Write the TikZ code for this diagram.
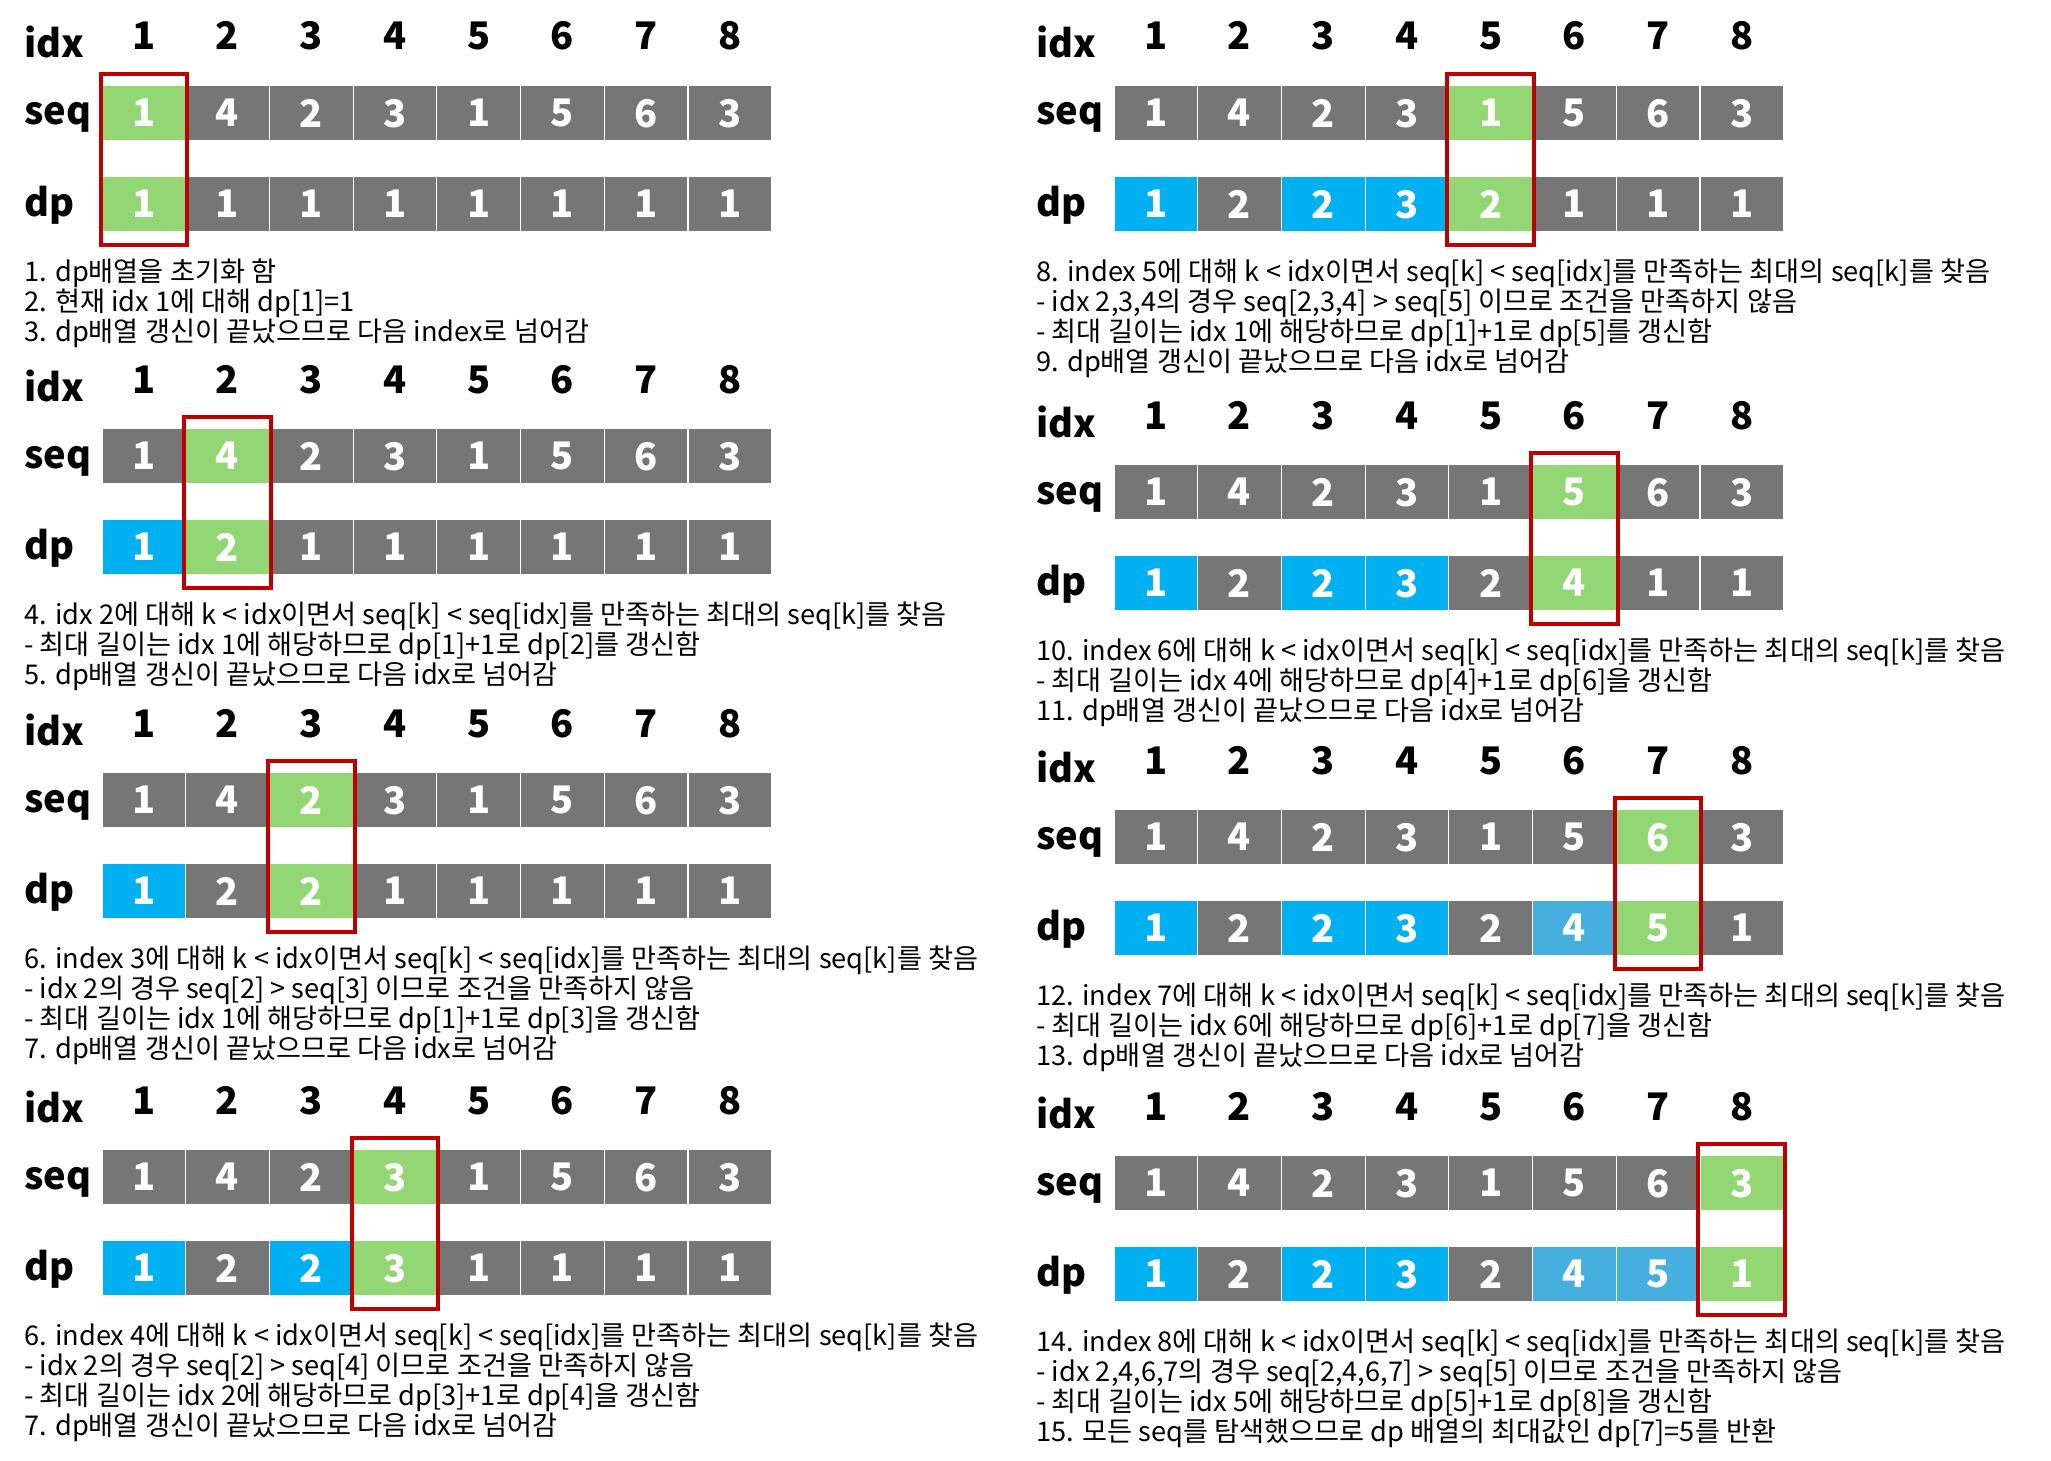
\documentclass[tikz,border=0pt]{standalone}
\usepackage{fontspec}
\setmainfont{Noto Sans CJK KR}
\definecolor{cellgray}{HTML}{767676}
\definecolor{curgreen}{HTML}{92D774}
\definecolor{lisblue}{HTML}{00B0F0}
\definecolor{lisltblue}{HTML}{46AFE0}
\definecolor{boxred}{HTML}{C00000}

% #1 name, #2 label x, #3 first cell x, #4 seq top, #5 current idx, #6 dp value/colour, #7 notes
\newcommand{\lispanel}[7]{%
  \node[lbl] (#1-idx) at (#2,#4-27) {idx};
  \node[lbl] (#1-seq) at (#2,#4+40) {seq};
  \node[lbl] (#1-dp) at (#2,#4+131) {dp};
  \foreach \v [count=\i] in {1,4,2,3,1,5,6,3}{
    \ifnum\i=#5\relax\def\fc{curgreen}\else\def\fc{cellgray}\fi
    \node[colnum] (#1-n\i) at (#3+\i*83.7-41.85,#4-35) {\i};
    \node[cell,fill=\fc] (#1-s\i) at (#3+\i*83.7-41.85,#4+28) {\v};
  }
  \foreach \v/\c [count=\i] in {#6}
    \node[cell,fill=\c] (#1-d\i) at (#3+\i*83.7-41.85,#4+119) {\v};
  \draw[redbox] ([xshift=-0.75pt,yshift=5.5pt]#1-s#5.north west) rectangle ([xshift=0.75pt,yshift=-6.5pt]#1-d#5.south east);
  \node[note] (#1-note) at (#2,#4+173) {#7};
}

\begin{document}
\begin{tikzpicture}[x=0.5pt,y=-0.5pt,
  cell/.style={draw=white,line width=0.6pt,minimum width=41.85pt,minimum height=28pt,
    inner sep=0pt,outer sep=0pt,text=white,text depth=-1pt,font=\fontsize{19}{19}\selectfont\bfseries},
  colnum/.style={anchor=base,inner sep=0pt,font=\fontsize{19}{19}\selectfont\bfseries},
  lbl/.style={anchor=base west,inner sep=0pt,font=\fontsize{19}{19}\selectfont\bfseries},
  note/.style={anchor=north west,inner sep=0pt,align=left,font=\fontsize{13.6}{15}\selectfont},
  redbox/.style={draw=boxred,line width=2pt}]
\useasboundingbox (0,0) rectangle (2051,1461);

% left column
\lispanel{a}{24}{102}{85}{1}
  {1/curgreen,1/cellgray,1/cellgray,1/cellgray,1/cellgray,1/cellgray,1/cellgray,1/cellgray}
  {1. dp배열을 초기화 함\\2. 현재 idx 1에 대해 dp[1]=1\\3. dp배열 갱신이 끝났으므로 다음 index로 넘어감}
\lispanel{b}{24}{102}{428}{2}
  {1/lisblue,2/curgreen,1/cellgray,1/cellgray,1/cellgray,1/cellgray,1/cellgray,1/cellgray}
  {4. idx 2에 대해 k < idx이면서 seq[k] < seq[idx]를 만족하는 최대의 seq[k]를 찾음\\- 최대 길이는 idx 1에 해당하므로 dp[1]+1로 dp[2]를 갱신함\\5. dp배열 갱신이 끝났으므로 다음 idx로 넘어감}
\lispanel{c}{24}{102}{772}{3}
  {1/lisblue,2/cellgray,2/curgreen,1/cellgray,1/cellgray,1/cellgray,1/cellgray,1/cellgray}
  {6. index 3에 대해 k < idx이면서 seq[k] < seq[idx]를 만족하는 최대의 seq[k]를 찾음\\- idx 2의 경우 seq[2] > seq[3] 이므로 조건을 만족하지 않음\\- 최대 길이는 idx 1에 해당하므로 dp[1]+1로 dp[3]을 갱신함\\7. dp배열 갱신이 끝났으므로 다음 idx로 넘어감}
\lispanel{d}{24}{102}{1149}{4}
  {1/lisblue,2/cellgray,2/lisblue,3/curgreen,1/cellgray,1/cellgray,1/cellgray,1/cellgray}
  {6. index 4에 대해 k < idx이면서 seq[k] < seq[idx]를 만족하는 최대의 seq[k]를 찾음\\- idx 2의 경우 seq[2] > seq[4] 이므로 조건을 만족하지 않음\\- 최대 길이는 idx 2에 해당하므로 dp[3]+1로 dp[4]을 갱신함\\7. dp배열 갱신이 끝났으므로 다음 idx로 넘어감}

% right column
\lispanel{e}{1036}{1114}{85}{5}
  {1/lisblue,2/cellgray,2/lisblue,3/lisblue,2/curgreen,1/cellgray,1/cellgray,1/cellgray}
  {8. index 5에 대해 k < idx이면서 seq[k] < seq[idx]를 만족하는 최대의 seq[k]를 찾음\\- idx 2,3,4의 경우 seq[2,3,4] > seq[5] 이므로 조건을 만족하지 않음\\- 최대 길이는 idx 1에 해당하므로 dp[1]+1로 dp[5]를 갱신함\\9. dp배열 갱신이 끝났으므로 다음 idx로 넘어감}
\lispanel{f}{1036}{1114}{464}{6}
  {1/lisblue,2/cellgray,2/lisblue,3/lisblue,2/cellgray,4/curgreen,1/cellgray,1/cellgray}
  {10. index 6에 대해 k < idx이면서 seq[k] < seq[idx]를 만족하는 최대의 seq[k]를 찾음\\- 최대 길이는 idx 4에 해당하므로 dp[4]+1로 dp[6]을 갱신함\\11. dp배열 갱신이 끝났으므로 다음 idx로 넘어감}
\lispanel{g}{1036}{1114}{809}{7}
  {1/lisblue,2/cellgray,2/lisblue,3/lisblue,2/cellgray,4/lisltblue,5/curgreen,1/cellgray}
  {12. index 7에 대해 k < idx이면서 seq[k] < seq[idx]를 만족하는 최대의 seq[k]를 찾음\\- 최대 길이는 idx 6에 해당하므로 dp[6]+1로 dp[7]을 갱신함\\13. dp배열 갱신이 끝났으므로 다음 idx로 넘어감}
\lispanel{h}{1036}{1114}{1155}{8}
  {1/lisblue,2/cellgray,2/lisblue,3/lisblue,2/cellgray,4/lisltblue,5/lisltblue,1/curgreen}
  {14. index 8에 대해 k < idx이면서 seq[k] < seq[idx]를 만족하는 최대의 seq[k]를 찾음\\- idx 2,4,6,7의 경우 seq[2,4,6,7] > seq[5] 이므로 조건을 만족하지 않음\\- 최대 길이는 idx 5에 해당하므로 dp[5]+1로 dp[8]을 갱신함\\15. 모든 seq를 탐색했으므로 dp 배열의 최대값인 dp[7]=5를 반환}
\end{tikzpicture}
\end{document}
